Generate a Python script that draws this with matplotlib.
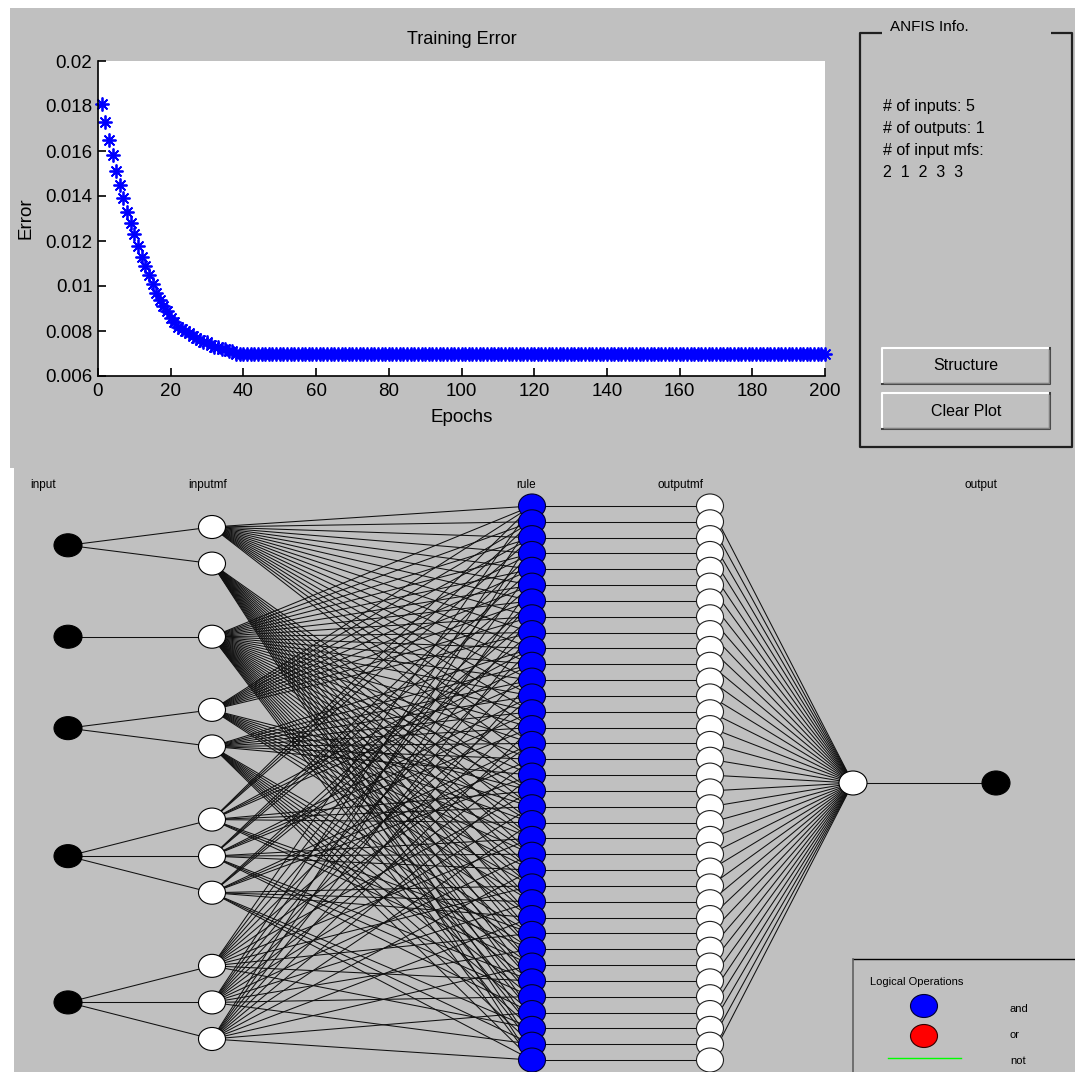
import numpy as np
import matplotlib.pyplot as plt
from matplotlib.patches import Ellipse, Rectangle

plt.rcParams['font.family'] = ['Liberation Sans', 'DejaVu Sans']
SMALL = ['Liberation Sans Narrow', 'Liberation Sans', 'DejaVu Sans']

# training error per epoch (flat after ~40 epochs)
train_error = [0.0181, 0.0173, 0.0165, 0.0158, 0.0151, 0.0145, 0.0139, 0.0133,
               0.0128, 0.0123, 0.0118, 0.0113, 0.0109, 0.0105, 0.0101, 0.0097,
               0.0094, 0.0091, 0.0089, 0.0086, 0.0084, 0.0082, 0.0081, 0.0080,
               0.0079, 0.0078, 0.0077, 0.0076, 0.0075, 0.0075, 0.0074, 0.0073,
               0.0073, 0.0072, 0.0072, 0.0071, 0.0071, 0.0070, 0.0070, 0.0070]
train_error = train_error + [0.00697] * 160
xticks = [0, 20, 40, 60, 80, 100, 120, 140, 160, 180, 200]
yticks = [0.006, 0.008, 0.01, 0.012, 0.014, 0.016, 0.018, 0.02]
ytick_labels = ['0.006', '0.008', '0.01', '0.012', '0.014', '0.016', '0.018', '0.02']

# ANFIS structure
n_inputs = 5
n_outputs = 1
input_mfs = [2, 1, 2, 3, 3]
layer_names = ['input', 'inputmf', 'rule', 'outputmf', 'output']
info_lines = ['# of inputs: 5', '# of outputs: 1', '# of input mfs:', '2  1  2  3  3']
buttons = ['Structure', 'Clear Plot']
logic_ops = ['and', 'or', 'not']

BG = '#c0c0c0'
LC = '#101010'

fig = plt.figure(figsize=(10.75, 10.72), dpi=100)
fig.patch.set_facecolor('white')

# pixel-like canvas for the gui parts and the network
cv = fig.add_axes([0, 0, 1, 1])
cv.set_xlim(0, 1075)
cv.set_ylim(1072, 0)
cv.axis('off')
cv.add_patch(Rectangle((10, 8), 1065, 460, fc=BG, ec='none', zorder=0))
cv.add_patch(Rectangle((14, 467), 1061, 605, fc=BG, ec='none', zorder=0))

# ANFIS Info frame
fk = dict(color='#202020', lw=1.6, solid_capstyle='butt')
cv.plot([882, 860, 860, 1072, 1072, 1051], [33, 33, 447, 447, 33, 33], **fk)
cv.text(929, 27, 'ANFIS Info.', ha='center', va='center', fontsize=11)
for k, s in enumerate(info_lines):
    cv.text(883, 107 + k * 21.7, s, ha='left', va='center', fontsize=11.5)

for k, s in enumerate(buttons):
    y0 = 348 + k * 45
    cv.add_patch(Rectangle((882, y0), 168, 36, fc=BG, ec='none', zorder=1))
    cv.plot([882, 882, 1050], [y0 + 36, y0, y0], color='white', lw=1.5, zorder=2)
    cv.plot([882, 1050, 1050], [y0 + 36, y0 + 36, y0], color='#404040', lw=1.5, zorder=2)
    cv.plot([883.5, 1048.5, 1048.5], [y0 + 34.5, y0 + 34.5, y0 + 1.5], color='#808080', lw=1, zorder=2)
    cv.text(966, y0 + 18, s, ha='center', va='center', fontsize=11.5, zorder=3)

# network layout
x_in, x_mf, x_rule, x_omf, x_sum, x_out = 68, 212, 532, 710, 853, 996
y_mid = 783
mf_step = 36.57
rule_step = 15.83

slots = []
pos = 0
for n in input_mfs:
    slots.append(np.arange(n) + pos)
    pos += n + 1
last = pos - 2
mf_y = [y_mid + (s - last / 2) * mf_step for s in slots]
in_y = [ys.mean() for ys in mf_y]

n_rules = int(np.prod(input_mfs))
rule_y = y_mid + (np.arange(n_rules) - (n_rules - 1) / 2) * rule_step
rule_mf = np.unravel_index(np.arange(n_rules), input_mfs)

lw = 0.75
for i in range(n_inputs):
    for y in mf_y[i]:
        cv.plot([x_in, x_mf], [in_y[i], y], color=LC, lw=lw, zorder=1)
    for r in range(n_rules):
        cv.plot([x_mf, x_rule], [mf_y[i][rule_mf[i][r]], rule_y[r]], color=LC, lw=lw, zorder=1)
for r in range(n_rules):
    cv.plot([x_rule, x_omf], [rule_y[r], rule_y[r]], color=LC, lw=lw, zorder=1)
    cv.plot([x_omf, x_sum], [rule_y[r], y_mid], color=LC, lw=lw, zorder=1)
cv.plot([x_sum, x_out], [y_mid, y_mid], color=LC, lw=lw, zorder=1)


def node(x, y, w, h, fc, ec='black', z=3):
    cv.add_patch(Ellipse((x, y), w, h, fc=fc, ec=ec, lw=0.8, zorder=z))


for i in range(n_inputs):
    node(x_in, in_y[i], 28, 23, 'black')
    for y in mf_y[i]:
        node(x_mf, y, 27, 23, 'white')
for r in range(n_rules):
    node(x_rule, rule_y[r], 27, 24, '#0000ff', ec='#000030', z=3 + r * 0.01)
    node(x_omf, rule_y[r], 27, 24, 'white', ec='#202020', z=3 + r * 0.01)
node(x_sum, y_mid, 28, 24, 'white')
node(x_out, y_mid, 28, 24, 'black')

label_x = [43, 208, 526, 680, 981]
for s, x in zip(layer_names, label_x):
    cv.text(x, 485, s, ha='center', va='center', fontsize=8.5, family=SMALL)

# logical operations legend
cv.plot([852.5, 1075], [959, 959], color='black', lw=1)
cv.plot([852.5, 852.5], [959, 1072], color='#606060', lw=1.2)
cv.text(917, 982, 'Logical Operations', ha='center', va='center', fontsize=8, family=SMALL)
cv.add_patch(Ellipse((924, 1006), 27, 23, fc='#0000ff', ec='#000030', lw=0.8))
cv.add_patch(Ellipse((924, 1036), 27, 23, fc='#ff0000', ec='#300000', lw=0.8))
cv.plot([888, 961], [1058, 1058], color='#00ff00', lw=1)
for k, s in enumerate(logic_ops):
    cv.text(1010, 1009 + k * 26, s, ha='left', va='center', fontsize=8, family=SMALL)

# training error plot
ax = fig.add_axes([98 / 1075, 1 - 376 / 1072, 727 / 1075, 315 / 1072])
ax.set_facecolor('white')
epochs = np.arange(1, len(train_error) + 1)
ax.plot(epochs, train_error, ls='none', marker=(8, 2, 0), ms=10, mew=1.3,
        color='#0000ff', clip_on=False)
ax.set_xlim(0, 200)
ax.set_ylim(0.006, 0.02)
ax.set_xticks(xticks)
ax.set_yticks(yticks)
ax.set_yticklabels(ytick_labels)
ax.spines['top'].set_visible(False)
ax.spines['right'].set_visible(False)
ax.spines['left'].set_linewidth(1.2)
ax.spines['bottom'].set_linewidth(1.2)
ax.tick_params(direction='in', length=6, width=1.2, labelsize=13.5)
ax.tick_params(axis='x', pad=5)
ax.tick_params(axis='y', pad=4)
ax.set_title('Training Error', fontsize=13, pad=12)
ax.set_xlabel('Epochs', fontsize=13.5)
ax.xaxis.set_label_coords(0.5, -0.105)
ax.set_ylabel('Error', fontsize=13.5)
ax.yaxis.set_label_coords(-0.087, 0.5)

fig.savefig('out.png', dpi=100)
